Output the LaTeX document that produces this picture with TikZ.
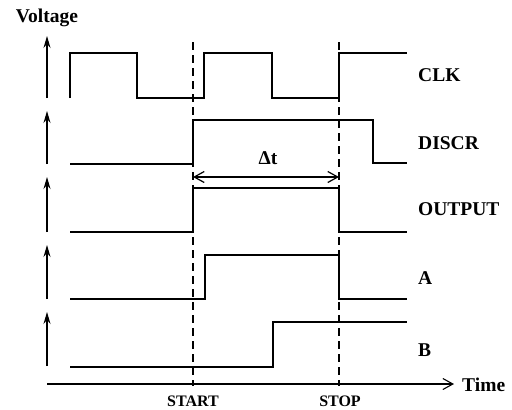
\documentclass[tikz,border=0pt]{standalone}
\usepackage{fontspec}
\setmainfont{Liberation Serif}
\usetikzlibrary{arrows.meta}
\begin{document}
\begin{tikzpicture}[x=1pt,y=-1pt,
  wave/.style={line width=2.2pt,line join=miter},
  vaxis/.style={line width=1.1pt,-{Stealth[length=12pt,width=7pt,inset=4pt]}},
  haxis/.style={line width=1.1pt,-{Straight Barb[length=10pt,width=11pt]}},
  dimarrow/.style={line width=1.2pt,{Straight Barb[length=10pt,width=11pt]}-{Straight Barb[length=10pt,width=11pt]}},
  marker/.style={line width=1.5pt,dash pattern=on 8pt off 5pt},
  lbl/.style={font=\fontsize{19.5}{21}\selectfont\bfseries,inner sep=0pt,anchor=west},
  clbl/.style={font=\fontsize{19.5}{21}\selectfont\bfseries,inner sep=0pt},
  slbl/.style={font=\fontsize{16}{18}\selectfont\bfseries,inner sep=0pt}]
\useasboundingbox (0,0) rectangle (512,410);

% markers
\coordinate (s1) at (193,42); \coordinate (s2) at (193,386);
\coordinate (t1) at (339,42); \coordinate (t2) at (339,386);
\draw[marker] (s1) -- (s2);
\draw[marker] (t1) -- (t2);

% voltage arrows
\coordinate (c0) at (47,98);  \coordinate (c1) at (47,36);
\coordinate (d0) at (47,164); \coordinate (d1) at (47,111);
\coordinate (o0) at (47,232); \coordinate (o1) at (47,177);
\coordinate (a0) at (47,299); \coordinate (a1) at (47,245);
\coordinate (b0) at (47,366); \coordinate (b1) at (47,312);
\draw[vaxis] (c0) -- (c1);
\draw[vaxis] (d0) -- (d1);
\draw[vaxis] (o0) -- (o1);
\draw[vaxis] (a0) -- (a1);
\draw[vaxis] (b0) -- (b1);

% time axis
\coordinate (ta0) at (47,384); \coordinate (ta1) at (454,384);
\draw[haxis] (ta0) -- (ta1);

% waveforms
\draw[wave] (70,98) -- (70,53) -- (137,53) -- (137,98) -- (204,98) -- (204,53)
  -- (272,53) -- (272,98) -- (339,98) -- (339,53) -- (407,53);
\draw[wave] (70,164) -- (193,164) -- (193,120) -- (373,120) -- (373,163) -- (407,163);
\draw[wave] (70,232) -- (193,232) -- (193,188) -- (339,188) -- (339,232) -- (407,232);
\draw[wave] (70,299) -- (205,299) -- (205,255) -- (339,255) -- (339,299) -- (407,299);
\draw[wave] (70,367) -- (273,367) -- (273,322) -- (407,322);

% delta t
\coordinate (dt0) at (193,177); \coordinate (dt1) at (339,177);
\draw[dimarrow] (dt0) -- (dt1);
\node[clbl] (dtl) at (268,158) {Δt};

% labels
\node[clbl] (volt) at (47,18) {Voltage};
\node[lbl] (clk) at (418,75) {CLK};
\node[lbl] (discr) at (418,143) {DISCR};
\node[lbl] (out) at (418,209) {OUTPUT};
\node[lbl] (la) at (418,278) {A};
\node[lbl] (lb) at (418,350) {B};
\node[lbl] (time) at (462,385) {Time};
\node[slbl] (start) at (193,401) {START};
\node[slbl] (stop) at (340,401) {STOP};
\end{tikzpicture}
\end{document}
